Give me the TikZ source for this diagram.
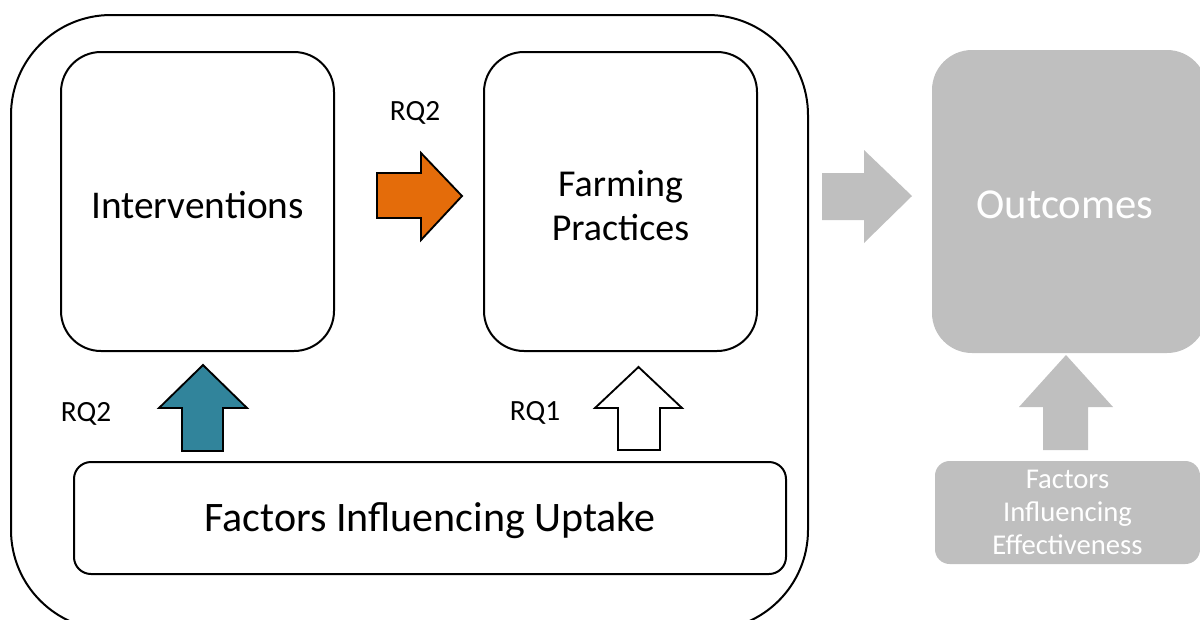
\documentclass[tikz,border=0pt]{standalone}
\usepackage{fontspec}
\setmainfont{Carlito}
\definecolor{tealfill}{HTML}{31849B}
\definecolor{orangefill}{HTML}{E46C0A}
\definecolor{greyfill}{HTML}{BFBFBF}
\tikzset{
  frame/.style={draw, line width=1.5pt, align=center, inner sep=0pt},
  stage/.style={frame, rounded corners=30pt, minimum width=204.75pt, minimum height=224.25pt},
  stagetext/.style={align=center, inner sep=0pt, font=\fontsize{29.5}{33}\selectfont},
  greybox/.style={fill=greyfill, align=center, inner sep=0pt, text=white},
  rq/.style={font=\fontsize{22}{26}\selectfont},
  blockarrow/.style={line width=1.4pt, line join=miter},
}
\begin{document}
\begin{tikzpicture}[x=0.75pt, y=-0.75pt]
\useasboundingbox (0,0) rectangle (1200,619);
\clip (0,0) rectangle (1200,619);

% enclosing frame of the uptake study
\node[frame, rounded corners=75pt, minimum width=597.75pt, minimum height=461.25pt] (outer) at (409.5,322.5) {};

% stages
\node[stage] (interv) at (197.5,201.5) {};
\node[stagetext] (intervtext) at (197.5,205) {Interventions};
\node[stage] (farm) at (620.5,201.5) {};
\node[stagetext, font=\fontsize{28.5}{33}\selectfont] (farmtext) at (620.5,206) {Farming\\Practices};
\node[frame, rounded corners=12.75pt, minimum width=534pt, minimum height=84pt] (uptake) at (430,518) {};
\node[stagetext, font=\fontsize{31.5}{36}\selectfont] (uptaketext) at (430,521) {Factors Influencing Uptake};

% greyed-out outcome part
\draw[fill=greyfill, draw=none] (1066,355) -- (1113,407) -- (1088,407) -- (1088,450) -- (1043,450) -- (1043,407) -- (1019,407) -- cycle;
\node[greybox, rounded corners=30pt, minimum width=206.25pt, minimum height=227.25pt] (outbox) at (1069.5,201.5) {};
\node[text=white, inner sep=0pt, font=\fontsize{32}{36}\selectfont] (outcomes) at (1065,205) {Outcomes};
\node[greybox, rounded corners=11pt, minimum width=198.75pt, minimum height=77.25pt, font=\fontsize{21.5}{24.75}\selectfont] (effect) at (1067.5,512.5) {Factors\\Influencing\\Effectiveness};

% block arrows
\draw[blockarrow, fill=orangefill] (377,173) -- (421,173) -- (421,153) -- (462,196) -- (421,240) -- (421,218) -- (377,218) -- cycle;
\draw[blockarrow, fill=tealfill] (182,451) -- (182,408) -- (159,408) -- (203,365) -- (247,408) -- (223,408) -- (223,451) -- cycle;
\draw[blockarrow, fill=white] (618,450) -- (618,408) -- (595,408) -- (638.5,367) -- (682,408) -- (660,408) -- (660,450) -- cycle;
\draw[fill=greyfill, draw=none] (822,173) -- (864,173) -- (864,150) -- (912,196) -- (864,243) -- (864,220) -- (822,220) -- cycle;

% research question labels
\node[rq] (rqtop) at (415,113) {RQ2};
\node[rq] (rqleft) at (86,414) {RQ2};
\node[rq] (rqright) at (535,413) {RQ1};
\end{tikzpicture}
\end{document}
